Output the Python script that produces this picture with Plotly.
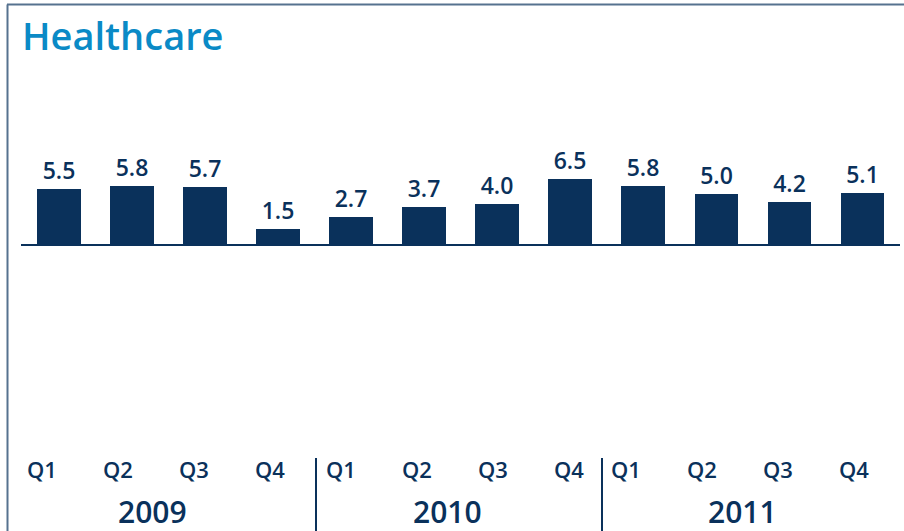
import plotly.graph_objects as go

# ---- data ----
title_text = "Healthcare"
years = ["2009", "2010", "2011"]
quarters = ["Q1", "Q2", "Q3", "Q4"]
values = [5.5, 5.8, 5.7, 1.5, 2.7, 3.7, 4.0, 6.5, 5.8, 5.0, 4.2, 5.1]
value_labels = [f"{v:.1f}" for v in values]

# ---- styles / layout ----
W, H = 904, 531
NAVY = "#0a315b"
TITLE_BLUE = "#0a8ac6"
FRAME = "#56728f"
FONT = "Open Sans"

x_idx = list(range(len(values)))
first_px, step_px = 59.0, 73.05
x_range = [-first_px / step_px, (W - first_px) / step_px]
base_px, unit_px = 244.0, 10.0
y_range = [-(H - base_px) / unit_px, base_px / unit_px]

fig = go.Figure()
fig.add_trace(go.Bar(
    x=x_idx, y=values, width=0.6,
    marker=dict(color=NAVY, line=dict(width=0)),
    text=value_labels, textposition="outside",
    textfont=dict(family=FONT, size=23, color=NAVY, weight=600),
    cliponaxis=False, hoverinfo="skip",
))

shapes = []
# frame top and left
shapes.append(dict(type="line", xref="paper", yref="paper",
                   x0=7 / W, x1=1, y0=1 - 4.5 / H, y1=1 - 4.5 / H,
                   line=dict(color=FRAME, width=2)))
shapes.append(dict(type="line", xref="paper", yref="paper",
                   x0=7.5 / W, x1=7.5 / W, y0=0, y1=1 - 4.5 / H,
                   line=dict(color=FRAME, width=2)))
# baseline
shapes.append(dict(type="line", xref="paper", yref="y",
                   x0=21 / W, x1=900 / W, y0=-0.1, y1=-0.1,
                   line=dict(color=NAVY, width=2)))
# group separators
for sep_px in [316, 602]:
    shapes.append(dict(type="line", xref="paper", yref="paper",
                       x0=sep_px / W, x1=sep_px / W, y0=0, y1=1 - 458 / H,
                       line=dict(color=NAVY, width=2)))

annotations = []
annotations.append(dict(text=title_text, xref="paper", yref="paper",
                        x=20 / W, y=1 - 35 / H, xanchor="left", yanchor="middle",
                        showarrow=False,
                        font=dict(family=FONT, size=38, color=TITLE_BLUE, weight=600)))
group_start_px = [42, 341, 626]
q_step_px = 76
year_center_px = [152, 447, 742]
for g, yr in enumerate(years):
    for k, q in enumerate(quarters):
        annotations.append(dict(text=q, xref="paper", yref="paper",
                                x=(group_start_px[g] + k * q_step_px) / W,
                                y=1 - 469 / H, xanchor="center", yanchor="middle",
                                showarrow=False,
                                font=dict(family=FONT, size=22, color=NAVY, weight=600)))
    annotations.append(dict(text=yr, xref="paper", yref="paper",
                            x=year_center_px[g] / W, y=1 - 511 / H,
                            xanchor="center", yanchor="middle", showarrow=False,
                            font=dict(family=FONT, size=30, color=NAVY, weight=600)))

fig.update_layout(
    width=W, height=H,
    margin=dict(l=0, r=0, t=0, b=0),
    paper_bgcolor="white", plot_bgcolor="white",
    showlegend=False,
    xaxis=dict(range=x_range, visible=False, fixedrange=True),
    yaxis=dict(range=y_range, visible=False, fixedrange=True),
    shapes=shapes, annotations=annotations,
    bargap=0,
)

fig.write_html("out.html", config={"displayModeBar": False},
               post_script="document.body.style.margin='0';document.body.style.overflow='hidden';")
